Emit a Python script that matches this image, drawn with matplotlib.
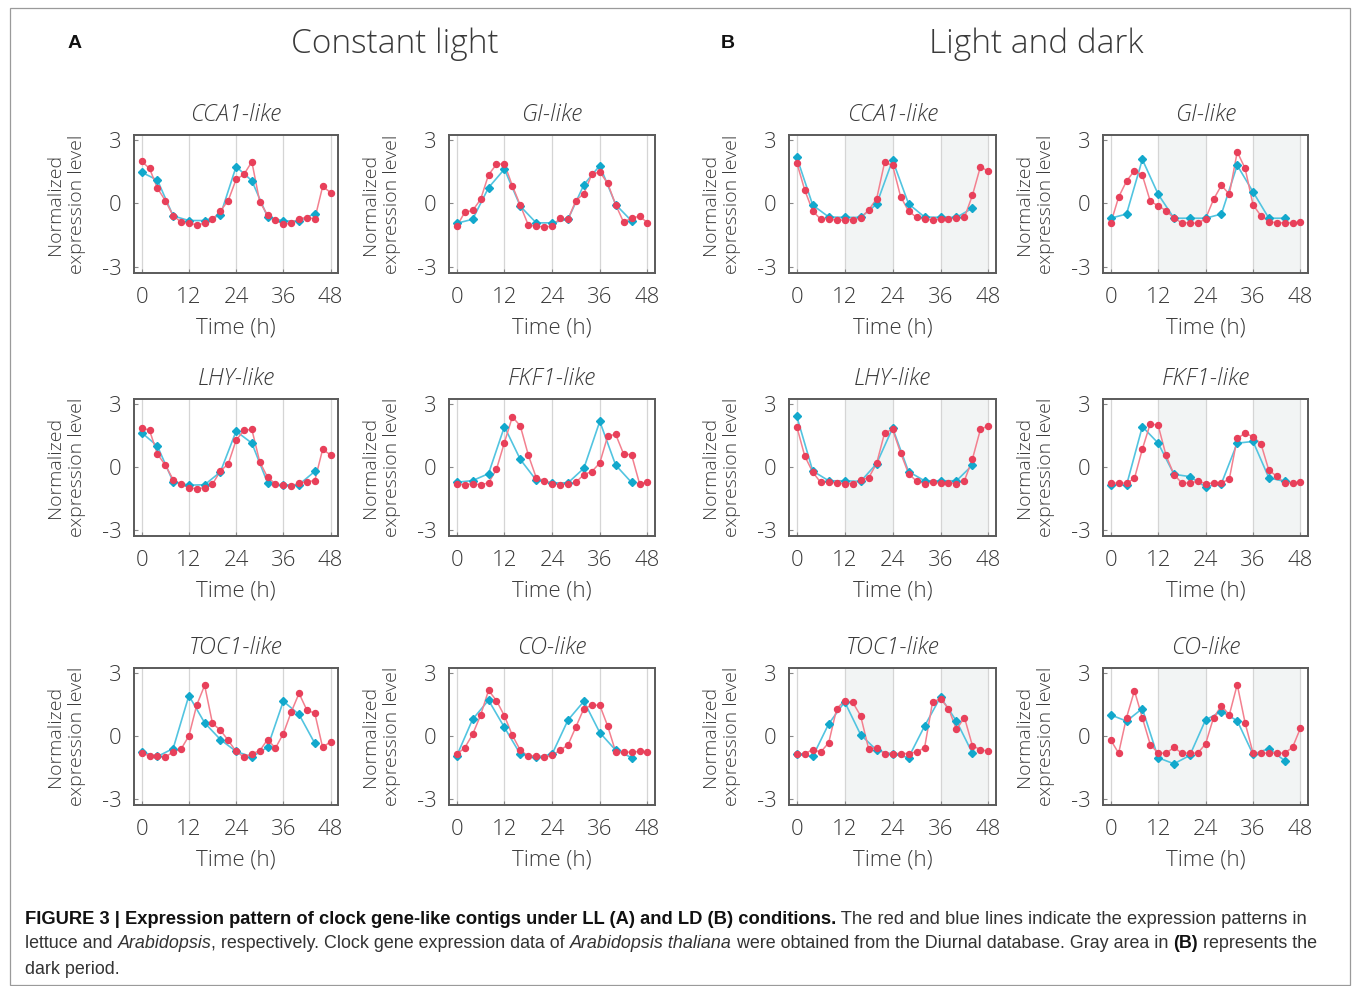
import matplotlib
matplotlib.use("Agg")
import matplotlib.pyplot as plt
from matplotlib.patches import Rectangle
import numpy as np

# ---------------- data ----------------
t_red = [0, 2, 4, 6, 8, 10, 12, 14, 16, 18, 20, 22, 24, 26, 28, 30, 32, 34, 36, 38, 40, 42, 44, 46, 48]
t_blue = [0, 4, 8, 12, 16, 20, 24, 28, 32, 36, 40, 44]

genes = ["CCA1-like", "GI-like", "LHY-like", "FKF1-like", "TOC1-like", "CO-like"]

# Constant light (LL) - lettuce (red) and Arabidopsis (blue)
ll_cca1_red = [2.0, 1.66, 0.73, 0.14, -0.58, -0.88, -0.95, -1.0, -0.95, -0.75, -0.36, 0.14, 1.14, 1.38, 1.98, 0.08, -0.55, -0.8, -0.98, -0.94, -0.72, -0.67, -0.73, 0.81, 0.52]
ll_cca1_blue = [1.48, 1.11, -0.59, -0.81, -0.81, -0.56, 1.75, 1.08, -0.64, -0.83, -0.83, -0.48]
ll_gi_red = [-1.09, -0.42, -0.33, 0.19, 1.36, 1.86, 1.88, 0.84, -0.09, -1.02, -1.08, -1.11, -1.08, -0.70, -0.75, 0.14, 0.47, 1.38, 1.5, 0.95, -0.06, -0.89, -0.69, -0.61, -0.91]
ll_gi_blue = [-0.94, -0.75, 0.75, 1.63, -0.13, -0.92, -0.92, -0.75, 0.89, 1.8, -0.05, -0.83]
ll_lhy_red = [1.88, 1.75, 0.62, 0.09, -0.6, -0.82, -0.99, -1.04, -0.99, -0.82, -0.19, 0.14, 1.28, 1.75, 1.8, 0.25, -0.49, -0.81, -0.88, -0.92, -0.77, -0.71, -0.65, 0.84, 0.58]
ll_lhy_blue = [1.64, 1.0, -0.71, -0.87, -0.85, -0.24, 1.71, 1.14, -0.76, -0.87, -0.84, -0.21]
ll_fkf1_red = [-0.82, -0.85, -0.8, -0.85, -0.76, -0.11, 1.17, 2.4, 1.96, 0.58, -0.51, -0.65, -0.79, -0.85, -0.8, -0.73, -0.36, -0.22, 0.19, 1.48, 1.56, 0.62, 0.58, -0.79, -0.73]
ll_fkf1_blue = [-0.73, -0.65, -0.32, 1.93, 0.36, -0.63, -0.76, -0.76, -0.06, 2.18, 0.09, -0.74]
ll_toc1_red = [-0.82, -0.95, -0.98, -1.01, -0.76, -0.63, 0.0, 1.48, 2.42, 0.6, 0.28, -0.21, -0.74, -1.01, -0.85, -0.71, -0.17, -0.58, 0.11, 1.14, 2.04, 1.23, 1.09, -0.55, -0.27]
ll_toc1_blue = [-0.76, -0.98, -0.6, 1.93, 0.63, -0.17, -0.74, -1.0, -0.54, 1.66, 1.03, -0.35]
ll_co_red = [-0.87, -0.57, 0.08, 0.99, 2.18, 1.69, 0.96, 0.03, -0.68, -0.96, -0.95, -1.01, -0.93, -0.68, -0.43, 0.44, 1.31, 1.47, 1.47, 0.47, -0.76, -0.77, -0.77, -0.74, -0.77]
ll_co_blue = [-0.95, 0.80, 1.71, 0.41, -0.87, -1.01, -0.87, 0.76, 1.66, 0.16, -0.68, -1.03]

# Light and dark (LD)
ld_cca1_red = [1.94, 0.63, -0.36, -0.75, -0.72, -0.8, -0.78, -0.77, -0.69, -0.31, 0.22, 1.95, 1.81, 0.33, -0.36, -0.66, -0.75, -0.78, -0.75, -0.72, -0.70, -0.66, 0.39, 1.75, 1.52]
ld_cca1_blue = [2.19, -0.08, -0.64, -0.66, -0.66, -0.03, 2.06, -0.02, -0.64, -0.66, -0.66, -0.22]
ld_gi_red = [-0.94, 0.30, 1.06, 1.56, 1.34, 0.11, -0.11, -0.34, -0.70, -0.92, -0.92, -0.94, -0.72, 0.19, 0.86, 0.44, 2.45, 1.66, -0.06, -0.59, -0.86, -0.92, -0.92, -0.92, -0.89]
ld_gi_blue = [-0.70, -0.5, 2.09, 0.44, -0.70, -0.70, -0.70, -0.5, 1.81, 0.55, -0.70, -0.70]
ld_lhy_red = [1.93, 0.52, -0.25, -0.74, -0.72, -0.77, -0.8, -0.79, -0.62, -0.52, 0.17, 1.63, 1.8, 0.68, -0.32, -0.68, -0.79, -0.74, -0.77, -0.76, -0.79, -0.65, 0.38, 1.8, 1.97]
ld_lhy_blue = [2.42, -0.19, -0.66, -0.66, -0.69, 0.16, 1.86, -0.22, -0.66, -0.66, -0.66, 0.09]
ld_fkf1_red = [-0.77, -0.77, -0.77, -0.55, 0.85, 2.07, 1.99, 0.55, -0.36, -0.77, -0.77, -0.68, -0.79, -0.77, -0.77, -0.57, 1.37, 1.61, 1.45, 1.11, -0.16, -0.44, -0.76, -0.77, -0.71]
ld_fkf1_blue = [-0.84, -0.87, 1.93, 1.14, -0.35, -0.46, -0.95, -0.79, 1.14, 1.22, -0.52, -0.69]
ld_toc1_red = [-0.85, -0.85, -0.65, -0.77, -0.32, 1.31, 1.69, 1.61, 0.96, -0.62, -0.57, -0.84, -0.84, -0.84, -0.84, -0.76, -0.57, 1.61, 1.79, 1.31, 0.32, 0.88, -0.47, -0.65, -0.74]
ld_toc1_blue = [-0.88, -0.98, 0.58, 1.63, 0.06, -0.68, -0.87, -1.03, 0.47, 1.86, 0.71, -0.82]
ld_co_red = [-0.19, -0.82, 0.88, 2.16, 0.87, -0.41, -0.82, -0.82, -0.55, -0.82, -0.82, -0.82, -0.38, 0.87, 1.44, 1.01, 2.46, 0.62, -0.82, -0.82, -0.82, -0.82, -0.82, -0.54, 0.38]
ld_co_blue = [1.01, 0.71, 1.31, -1.04, -1.33, -0.93, 0.77, 1.17, 0.73, -0.88, -0.6, -1.18]

dark_periods = [(12, 24), (36, 48)]
x_ticks = [0, 12, 24, 36, 48]
y_ticks = [-3, 0, 3]

ll_red = [ll_cca1_red, ll_gi_red, ll_lhy_red, ll_fkf1_red, ll_toc1_red, ll_co_red]
ll_blue = [ll_cca1_blue, ll_gi_blue, ll_lhy_blue, ll_fkf1_blue, ll_toc1_blue, ll_co_blue]
ld_red = [ld_cca1_red, ld_gi_red, ld_lhy_red, ld_fkf1_red, ld_toc1_red, ld_co_red]
ld_blue = [ld_cca1_blue, ld_gi_blue, ld_lhy_blue, ld_fkf1_blue, ld_toc1_blue, ld_co_blue]

# ---------------- style ----------------
W, H = 1358, 986
FONT = ["Open Sans", "DejaVu Sans"]
TXT = "#3a3a3a"
RED = "#E8405A"
RED_L = "#F3808F"
BLUE = "#12A8CC"
BLUE_L = "#52C4E0"

plt.rcParams["font.family"] = FONT
fig = plt.figure(figsize=(W / 100, H / 100), dpi=100)
fig.patch.set_facecolor("white")


def px_axes(l, t, r, b):
    return fig.add_axes([l / W, 1 - b / H, (r - l) / W, (b - t) / H])


col_lr = [(134, 338), (449, 655), (789, 996), (1103, 1308)]
row_tb = [(135, 273), (399, 536), (668, 805)]


def draw_panel(ax, red, blue, title, ld):
    ax.set_xlim(-1.95, 49.9)
    ax.set_ylim(-3.3, 3.25)
    if ld:
        for a, b in dark_periods:
            ax.axvspan(a, b, color="#F2F4F4", zorder=0, lw=0)
    for xv in x_ticks:
        ax.axvline(xv, color="#D5D5D5", lw=0.9, zorder=1)
    ax.plot(t_blue, blue, color=BLUE_L, lw=1.2, zorder=2)
    ax.plot(t_red, red, color=RED_L, lw=1.1, zorder=3)
    ax.plot(t_blue, blue, ls="none", marker="D", ms=4.0, color=BLUE, zorder=4)
    ax.plot(t_red, red, ls="none", marker="o", ms=4.3, color=RED, zorder=5)
    ax.set_xticks(x_ticks)
    ax.set_yticks(y_ticks)
    ax.set_yticklabels([str(v) for v in y_ticks])
    ax.tick_params(axis="both", direction="in", length=3, width=0.8, color="#888888",
                   labelsize=16, labelcolor=TXT)
    ax.tick_params(axis="x", pad=10)
    ax.tick_params(axis="y", pad=9)
    for lab in ax.get_xticklabels() + ax.get_yticklabels():
        lab.set_fontweight("light")
    for s in ax.spines.values():
        s.set_color("#5a5a5a")
        s.set_linewidth(1.4)
    ax.set_title(title, fontsize=17, style="italic", fontweight="light", color=TXT, pad=10)
    ax.set_xlabel("Time (h)", fontsize=16, fontweight="light", color=TXT, labelpad=7)
    ax.set_ylabel("Normalized\nexpression level", fontsize=14, fontweight="light",
                  color=TXT, labelpad=11, linespacing=1.3)


for i, g in enumerate(genes):
    r = i // 2
    c = i % 2
    t, b = row_tb[r]
    l, rr = col_lr[c]
    ax = px_axes(l, t, rr, b)
    draw_panel(ax, ll_red[i], ll_blue[i], g, False)
    l, rr = col_lr[c + 2]
    ax = px_axes(l, t, rr, b)
    draw_panel(ax, ld_red[i], ld_blue[i], g, True)

# headings
fig.text(75 / W, 1 - 44 / H, "A", fontsize=14, fontweight="bold", family="Liberation Sans",
         ha="center", va="center", color="#111111")
fig.text(728 / W, 1 - 44 / H, "B", fontsize=14, fontweight="bold", family="Liberation Sans",
         ha="center", va="center", color="#111111")
fig.text(395 / W, 1 - 44 / H, "Constant light", fontsize=24, fontweight="light",
         ha="center", va="center", color=TXT)
fig.text(1036 / W, 1 - 44 / H, "Light and dark", fontsize=24, fontweight="light",
         ha="center", va="center", color=TXT)

# outer frame
fig.add_artist(Rectangle((10 / W, 1 - 985 / H), (1350 - 10) / W, (985 - 8) / H,
                         transform=fig.transFigure, fill=False, ec="#9a9a9a", lw=0.9))

# caption with mixed styles
renderer = fig.canvas.get_renderer()
CAP = "Liberation Sans"


def rich_line(x_px, y_px, pieces, size):
    x = x_px
    for txt, weight, style in pieces:
        t = fig.text(x / W, 1 - y_px / H, txt, fontsize=size, family=CAP, fontweight=weight,
                     style=style, ha="left", va="center",
                     color="#111111" if weight == "bold" else "#333333")
        bb = t.get_window_extent(renderer=renderer)
        x += bb.width


rich_line(25, 919, [
    ("FIGURE 3 | Expression pattern of clock gene-like contigs under LL (A) and LD (B) conditions.", "bold", "normal"),
    (" The red and blue lines indicate the expression patterns in", "normal", "normal"),
], 13.2)
rich_line(25, 944, [
    ("lettuce and ", "normal", "normal"),
    ("Arabidopsis", "normal", "italic"),
    (", respectively. Clock gene expression data of ", "normal", "normal"),
    ("Arabidopsis thaliana", "normal", "italic"),
    (" were obtained from the Diurnal database. Gray area in ", "normal", "normal"),
    ("(B)", "bold", "normal"),
    (" represents the", "normal", "normal"),
], 12.9)
rich_line(25, 969, [("dark period.", "normal", "normal")], 12.9)

fig.savefig("out.png", dpi=100, facecolor="white")
